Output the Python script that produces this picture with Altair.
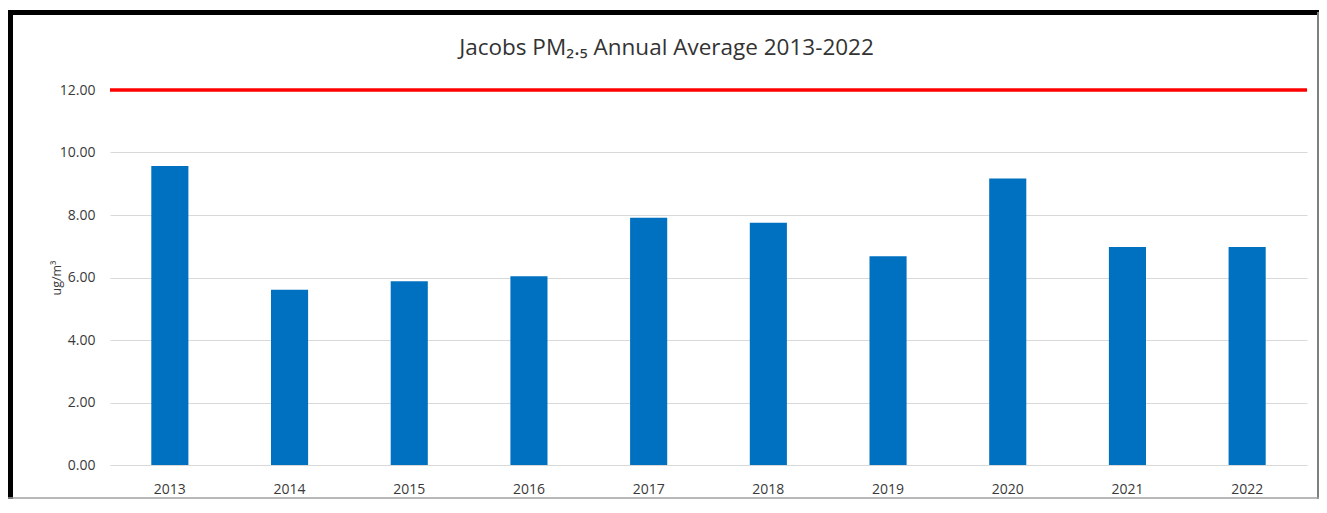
import altair as alt
import pandas as pd

years = ["2013", "2014", "2015", "2016", "2017", "2018", "2019", "2020", "2021", "2022"]
values = [9.57, 5.61, 5.88, 6.04, 7.91, 7.75, 6.68, 9.17, 6.98, 6.98]
standard = [12.0]
y_ticks = [0, 2, 4, 6, 8, 10, 12]

df = pd.DataFrame({"year": years, "value": values})
std_df = pd.DataFrame({"std": standard})

FONT = "Open Sans"
TXT = "#3a3a3a"

x_enc = alt.X(
    "year:N",
    sort=years,
    title=None,
    scale=alt.Scale(paddingInner=0.69, paddingOuter=0.345),
    axis=alt.Axis(labelAngle=0, ticks=False, domain=False, labelPadding=17,
                  labelFont=FONT, labelFontSize=14, labelColor=TXT),
)
y_enc = alt.Y(
    "value:Q",
    title="ug/m³",
    scale=alt.Scale(domain=[0, 12], nice=False),
    axis=alt.Axis(values=y_ticks, format=".2f", ticks=False, domain=False,
                  labelPadding=15, labelFont=FONT, labelFontSize=14, labelColor=TXT,
                  grid=True, gridColor="#d9d9d9", gridWidth=1.2,
                  titleFont=FONT, titleFontSize=12.5, titleFontWeight="normal",
                  titleColor=TXT, titlePadding=-4),
)

bars = alt.Chart(df).mark_bar(color="#0070C0").encode(x=x_enc, y=y_enc)

red = alt.Chart(std_df).mark_rule(color="#ff0000", strokeWidth=3.5).encode(
    y=alt.Y("std:Q")
)

# decorative frame around the whole picture
frame_top = alt.Chart(std_df).mark_rule(color="black", strokeWidth=5, clip=False).encode(
    x=alt.value(-102), x2=alt.value(1209), y=alt.value(-77.5)
)
frame_left = alt.Chart(std_df).mark_rule(color="black", strokeWidth=5, clip=False).encode(
    x=alt.value(-99.5), y=alt.value(-80), y2=alt.value(409)
)
frame_right = alt.Chart(std_df).mark_rule(color="#7f7f7f", strokeWidth=2, clip=False).encode(
    x=alt.value(1208), y=alt.value(-78), y2=alt.value(409)
)
frame_bottom = alt.Chart(std_df).mark_rule(color="#a0a0a0", strokeWidth=1.5, clip=False).encode(
    x=alt.value(-102), x2=alt.value(1209), y=alt.value(408)
)

chart = alt.layer(bars, red, frame_top, frame_left, frame_right, frame_bottom).properties(
    width=1197,
    height=375,
    title=alt.TitleParams("Jacobs PM₂.₅ Annual Average 2013-2022", font=FONT,
                          fontSize=22.5, fontWeight="normal", color="#333333",
                          anchor="middle", offset=-52, dx=-42),
    autosize=alt.AutoSizeParams(type="none"),
    padding={"left": 102, "top": 82, "right": 12, "bottom": 34},
    background="white",
).configure_view(stroke=None)

chart.save("out.html", embed_options={"renderer": "svg", "actions": False})
